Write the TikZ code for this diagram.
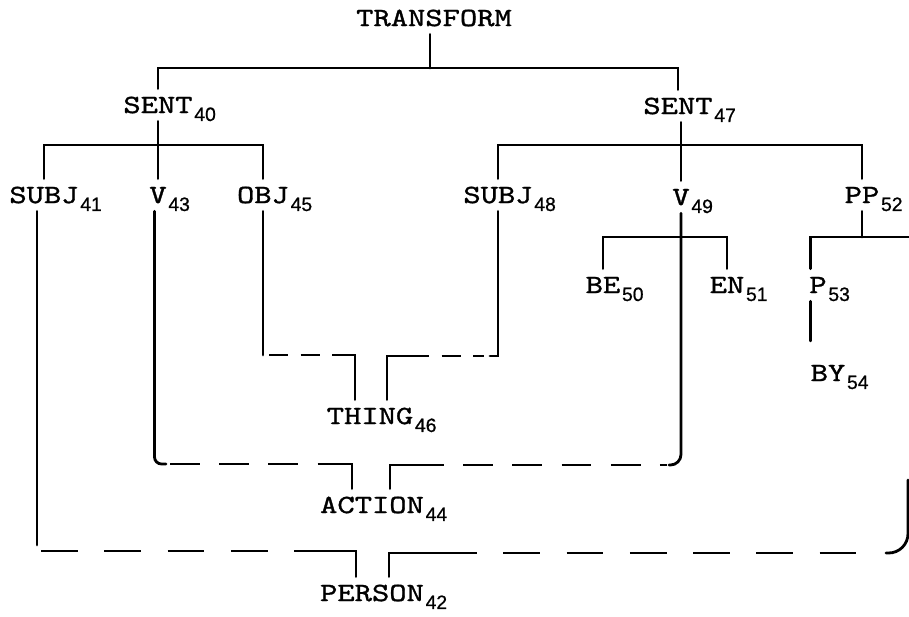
\documentclass[tikz,border=0pt]{standalone}
\usepackage{fontspec}
\usetikzlibrary{calc}
\newfontfamily\typefont[FakeStretch=1.25, FakeBold=1.2]{lmmono10-regular.otf}
\newfontfamily\handfont[FakeBold=0.8]{Liberation Sans}
\newcommand{\idx}[1]{\rlap{\kern1pt\raisebox{-4.5pt}{\handfont\fontsize{11}{13}\selectfont #1}}}
\tikzset{
  tword/.style={font=\typefont\fontsize{15}{18}\selectfont, inner xsep=0pt, inner ysep=4.5pt,
                text height=9.2pt, text depth=0pt},
  tline/.style={line width=1.6pt, line cap=round},
  tlink/.style={line width=1.6pt, dash pattern=on 17pt off 11pt},
  tlinkS/.style={tlink, dash pattern=on 11pt off 7pt},
  tlinkL/.style={tlink, dash pattern=on 21pt off 15pt},
}
\begin{document}
\begin{tikzpicture}[x=0.02cm, y=-0.02cm]
  \useasboundingbox (0,0) rectangle (909,617);
  % words
  \node[tword] (transform) at (434,18) {TRANSFORM};
  \node[tword] (sent40) at (158,105) {SENT\idx{40}};
  \node[tword] (sent47) at (678,106) {SENT\idx{47}};
  \node[tword] (subj41) at (44,195) {SUBJ\idx{41}};
  \node[tword] (v43) at (158,195) {V\idx{43}};
  \node[tword] (obj45) at (263,195) {OBJ\idx{45}};
  \node[tword] (subj48) at (498,195) {SUBJ\idx{48}};
  \node[tword] (v49) at (681,197) {V\idx{49}};
  \node[tword] (pp52) at (862,195) {PP\idx{52}};
  \node[tword] (be50) at (603,285) {BE\idx{50}};
  \node[tword] (en51) at (727,285) {EN\idx{51}};
  \node[tword] (p53) at (818,285) {P\idx{53}};
  \node[tword] (by54) at (828,373) {BY\idx{54}};
  \node[tword] (thing46) at (370,416) {THING\idx{46}};
  \node[tword] (action44) at (372,505) {ACTION\idx{44}};
  \node[tword] (person42) at (372,593) {PERSON\idx{42}};

  % tree
  \coordinate (tbar) at (430,68);
  \draw[tline] (transform.south -| tbar) -- (tbar);
  \draw[tline] (sent40.north) |- (tbar) -| (sent47.north);

  \coordinate (s40bar) at (158,145);
  \draw[tline] (sent40.south) -- (v43.north);
  \draw[tline] (subj41.north) |- (s40bar) -| (obj45.north);

  \coordinate (s47bar) at (681,145);
  \draw[tline] (sent47.south -| v49) -- (v49.north);
  \draw[tline] (subj48.north) |- (s47bar) -| (pp52.north);

  \coordinate (v49bar) at (681,237);
  \draw[tline] (be50.north) |- (v49bar) -| (en51.north);

  \coordinate (ppbar) at (862,237);
  \coordinate (ppcut) at (915,237);
  \draw[tline] (pp52.south) -- (ppbar);
  \draw[tline] (p53.north -| by54.west) |- (ppcut);
  \draw[tline, shorten >=9pt] (p53.south -| by54.west) -- (by54.north -| by54.west);

  % thing
  \coordinate (thL) at (336,355);
  \coordinate (thR) at (410,356);
  \draw[tline] (obj45.south) -- (obj45.south |- thL);
  \draw[tlinkS] ($(obj45.south |- thL)+(6,0)$) -- (thL);
  \draw[tline] (thL) -| ($(thing46.north)+(-15,0)$);
  \draw[tline] ($(thing46.north)+(17,0)$) |- (thR);
  \draw[tlinkS] (thR) -- ($(subj48.south |- thR)+(-14,0)$);
  \draw[tline] (subj48.south) |- ($(subj48.south |- thR)+(-8,0)$);

  % action
  \coordinate (acL) at (322,464);
  \coordinate (acR) at (414,465);
  \draw[tline, rounded corners=4pt] ([xshift=-2pt]v43.south) |- ($(v43.south |- acL)+(8,0)$);
  \draw[tlink] ($(v43.south |- acL)+(12,0)$) -- (acL);
  \draw[tline] (acL) -| ($(action44.north)+(-20,0)$);
  \draw[tline] ($(action44.north)+(18,0)$) |- (acR);
  \draw[tlink] (acR) -- ($(v49.south |- acR)+(-14,0)$);
  \draw[tline, rounded corners=6pt] (v49.south) |- ($(v49.south |- acR)+(-12,0)$);

  % person
  \coordinate (peL) at (317,551);
  \coordinate (peR) at (440,553);
  \coordinate (rcut) at (908,480);
  \coordinate (s41) at ($(subj41.south)+(-7,0)$);
  \draw[tline] (s41) -- ($(s41 |- peL)+(0,-6)$);
  \draw[tlinkL] ($(s41 |- peL)+(4,0)$) -- (peL);
  \draw[tline] (peL) -| ($(person42.north)+(-16,0)$);
  \draw[tline] ($(person42.north)+(17,0)$) |- (peR);
  \draw[tlinkL] (peR) -- ($(rcut |- peR)+(-26,0)$);
  \draw[tline, rounded corners=11pt] (rcut) |- ($(rcut |- peR)+(-22,0)$);
\end{tikzpicture}
\end{document}
